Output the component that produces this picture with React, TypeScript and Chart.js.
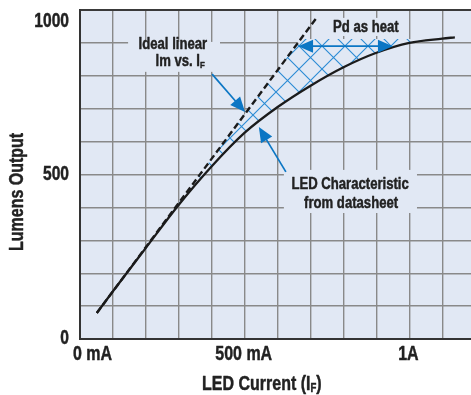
import React, { useEffect, useRef } from 'react';
import { Chart, registerables } from 'chart.js';

Chart.register(...registerables);

// ---- data ----
const ledCurrent = [51, 100, 200, 300, 400, 500, 600, 700, 800, 900, 1000, 1100, 1138];
const ledLumens = [79, 145, 277, 408, 525, 627, 705, 770, 826, 870, 900, 913, 917];
const idealCurrent = [51, 718];
const idealLumens = [79, 976];
const heatEdgeCurrent = [51, 670, 1000, 1045];
const heatEdgeLumens = [79, 912, 912, 906];
const xTickValues = [0, 500, 1000];
const xTickLabels = ['0 mA', '500 mA', '1A'];
const yTickValues = [0, 500, 1000];
const yTickLabels = ['0', '500', '1000'];

// ---- annotations (in data units) ----
const labelBoxes = [
  { x0: 146, x1: 425, y0: 903, y1: 812 },
  { x0: 744, x1: 990, y0: 976, y1: 921 },
  { x0: 619, x1: 1023, y0: 514, y1: 383 },
];
const labelLines = [
  { parts: [{ t: 'Ideal linear' }], x: 282, y: 894 },
  { parts: [{ t: 'lm vs. I' }, { t: 'F', sub: true }], x: 304, y: 842 },
  { parts: [{ t: 'Pd as heat' }], x: 868, y: 948 },
  { parts: [{ t: 'LED Characteristic' }], x: 820, y: 468 },
  { parts: [{ t: 'from datasheet' }], x: 823, y: 413 },
];
const arrows = [
  { from: [401, 805], to: [501, 690], both: false },
  { from: [625, 508], to: [543, 644], both: false },
  { from: [662, 890], to: [950, 890], both: true },
];

const PLOT_BG = '#e1e8f4';
const GRID = '#898989';
const TEXT = '#222222';
const BLUE = '#0b76c4';
const HATCH = '#2a8bd4';
const FAMILY = '"Liberation Sans", Arial, sans-serif';

type Part = { t: string; sub?: boolean };

function drawText(
  ctx: CanvasRenderingContext2D,
  parts: Part[],
  cx: number,
  cy: number,
  size: number,
  squeeze: number,
  align = 'center',
  rotate = 0
) {
  ctx.save();
  ctx.translate(cx, cy);
  if (rotate) ctx.rotate(rotate);
  ctx.scale(squeeze, 1);
  ctx.textBaseline = 'middle';
  ctx.textAlign = 'left';
  ctx.fillStyle = TEXT;
  ctx.strokeStyle = TEXT;
  ctx.lineWidth = 0.45;
  ctx.lineJoin = 'round';
  const widths = parts.map((p) => {
    ctx.font = `bold ${p.sub ? size * 0.6 : size}px ${FAMILY}`;
    return ctx.measureText(p.t).width;
  });
  const total = widths.reduce((a, b) => a + b, 0);
  let x = align === 'center' ? -total / 2 : align === 'right' ? -total : 0;
  parts.forEach((p, i) => {
    ctx.font = `bold ${p.sub ? size * 0.6 : size}px ${FAMILY}`;
    const yy = p.sub ? size * 0.24 : 0;
    ctx.fillText(p.t, x, yy);
    ctx.strokeText(p.t, x, yy);
    x += widths[i];
  });
  ctx.restore();
}

function arrowHead(ctx: CanvasRenderingContext2D, tx: number, ty: number, ang: number, len: number, half: number) {
  ctx.beginPath();
  ctx.moveTo(tx, ty);
  ctx.lineTo(tx - len * Math.cos(ang) + half * Math.sin(ang), ty - len * Math.sin(ang) - half * Math.cos(ang));
  ctx.lineTo(tx - len * Math.cos(ang) - half * Math.sin(ang), ty - len * Math.sin(ang) + half * Math.cos(ang));
  ctx.closePath();
  ctx.fill();
}

function makeHatch(): CanvasPattern | string {
  const s = 23;
  const c = document.createElement('canvas');
  c.width = s;
  c.height = s;
  const g = c.getContext('2d');
  if (!g) return PLOT_BG;
  g.fillStyle = PLOT_BG;
  g.fillRect(0, 0, s, s);
  g.strokeStyle = HATCH;
  g.lineWidth = 1.1;
  g.beginPath();
  for (const k of [-1, 0, 1]) {
    g.moveTo(k * s, 0);
    g.lineTo(k * s + s, s);
    g.moveTo(k * s, s);
    g.lineTo(k * s + s, 0);
  }
  g.stroke();
  return g.createPattern(c, 'repeat') || PLOT_BG;
}

const annotPlugin = {
  id: 'annot',
  beforeDraw(chart: any) {
    const { ctx, chartArea: a } = chart;
    ctx.save();
    ctx.fillStyle = PLOT_BG;
    ctx.fillRect(a.left, a.top, a.right - a.left, a.bottom - a.top);
    ctx.restore();
  },
  afterDatasetsDraw(chart: any) {
    const { ctx } = chart;
    const xs = chart.scales.x;
    const ys = chart.scales.y;
    const px = (v: number) => xs.getPixelForValue(v);
    const py = (v: number) => ys.getPixelForValue(v);
    ctx.save();
    ctx.fillStyle = PLOT_BG;
    labelBoxes.forEach((b) => {
      ctx.fillRect(px(b.x0), py(b.y0), px(b.x1) - px(b.x0), py(b.y1) - py(b.y0));
    });
    ctx.strokeStyle = BLUE;
    ctx.fillStyle = BLUE;
    ctx.lineWidth = 1.7;
    arrows.forEach((ar) => {
      const x0 = px(ar.from[0]);
      const y0 = py(ar.from[1]);
      const x1 = px(ar.to[0]);
      const y1 = py(ar.to[1]);
      const ang = Math.atan2(y1 - y0, x1 - x0);
      const len = 15;
      const sx = ar.both ? x0 + len * 0.8 * Math.cos(ang) : x0;
      const sy = ar.both ? y0 + len * 0.8 * Math.sin(ang) : y0;
      ctx.beginPath();
      ctx.moveTo(sx, sy);
      ctx.lineTo(x1 - len * 0.8 * Math.cos(ang), y1 - len * 0.8 * Math.sin(ang));
      ctx.stroke();
      arrowHead(ctx, x1, y1, ang, len, 6.5);
      if (ar.both) arrowHead(ctx, x0, y0, ang + Math.PI, len, 6.5);
    });
    ctx.restore();
    labelLines.forEach((l) => drawText(ctx, l.parts, px(l.x), py(l.y), 16, 0.82));
  },
  afterDraw(chart: any) {
    const { ctx, chartArea: a } = chart;
    const xs = chart.scales.x;
    const ys = chart.scales.y;
    xTickValues.forEach((v, i) => {
      const p = xs.getPixelForValue(v);
      if (i === 0) drawText(ctx, [{ t: xTickLabels[i] }], p - 7, a.bottom + 15, 20, 0.8, 'left');
      else drawText(ctx, [{ t: xTickLabels[i] }], p - 1, a.bottom + 15, 20, 0.8, 'center');
    });
    yTickValues.forEach((v, i) => {
      const p = Math.max(ys.getPixelForValue(v), a.top + 11.5);
      drawText(ctx, [{ t: yTickLabels[i] }], a.left - 11, p, 19.5, 0.8, 'right');
    });
    drawText(ctx, [{ t: 'LED Current (I' }, { t: 'F', sub: true }, { t: ')' }], xs.getPixelForValue(552), a.bottom + 45, 20, 0.8, 'center');
    drawText(ctx, [{ t: 'Lumens Output' }], 17, ys.getPixelForValue(447), 20, 0.8, 'center', -Math.PI / 2);
  },
};

export default function App() {
  const ref = useRef<HTMLCanvasElement | null>(null);
  useEffect(() => {
    const canvas = ref.current;
    if (!canvas) return;
    const hatch = makeHatch();
    const chart = new Chart(canvas, {
      type: 'line',
      data: {
        datasets: [
          {
            label: 'LED Characteristic',
            data: ledCurrent.map((x, i) => ({ x, y: ledLumens[i] })),
            borderColor: '#1b1b1b',
            borderWidth: 2.3,
            pointRadius: 0,
            cubicInterpolationMode: 'monotone',
            fill: false,
          },
          {
            label: 'Ideal linear',
            data: idealCurrent.map((x, i) => ({ x, y: idealLumens[i] })),
            borderColor: '#1b1b1b',
            borderWidth: 2.4,
            borderDash: [6.5, 3.5],
            pointRadius: 0,
            fill: false,
          },
          {
            label: 'Pd as heat',
            data: heatEdgeCurrent.map((x, i) => ({ x, y: heatEdgeLumens[i] })),
            borderColor: 'rgba(0,0,0,0)',
            borderWidth: 0,
            pointRadius: 0,
            backgroundColor: hatch as any,
            fill: 0,
          },
        ],
      },
      options: {
        responsive: false,
        animation: false,
        events: [],
        layout: { padding: { top: 10, left: 0, right: 0, bottom: 0 } },
        plugins: { legend: { display: false }, tooltip: { enabled: false }, title: { display: false } },
        scales: {
          x: {
            type: 'linear',
            min: 0,
            max: 1187,
            ticks: { stepSize: 100, display: false, includeBounds: false },
            grid: { color: GRID, lineWidth: 1.4, drawTicks: false },
            border: { color: '#333333', width: 2 },
            afterFit: (s: any) => {
              s.height = 56;
            },
          },
          y: {
            type: 'linear',
            min: 0,
            max: 1000,
            ticks: { stepSize: 100, display: false },
            grid: {
              color: (c: any) => (c.tick && c.tick.value === 1000 ? '#3a3a3a' : GRID),
              lineWidth: (c: any) => (c.tick && c.tick.value === 1000 ? 2 : 1.4),
              drawTicks: false,
            },
            border: { color: '#333333', width: 2 },
            afterFit: (s: any) => {
              s.width = 80;
            },
          },
        },
      } as any,
      plugins: [annotPlugin],
    });
    return () => chart.destroy();
  }, []);
  return (
    <div style={{ position: 'absolute', left: 0, top: 0, width: 471, height: 395 }}>
      <canvas ref={ref} width={471} height={395} style={{ width: 471, height: 395, display: 'block' }} />
    </div>
  );
}
